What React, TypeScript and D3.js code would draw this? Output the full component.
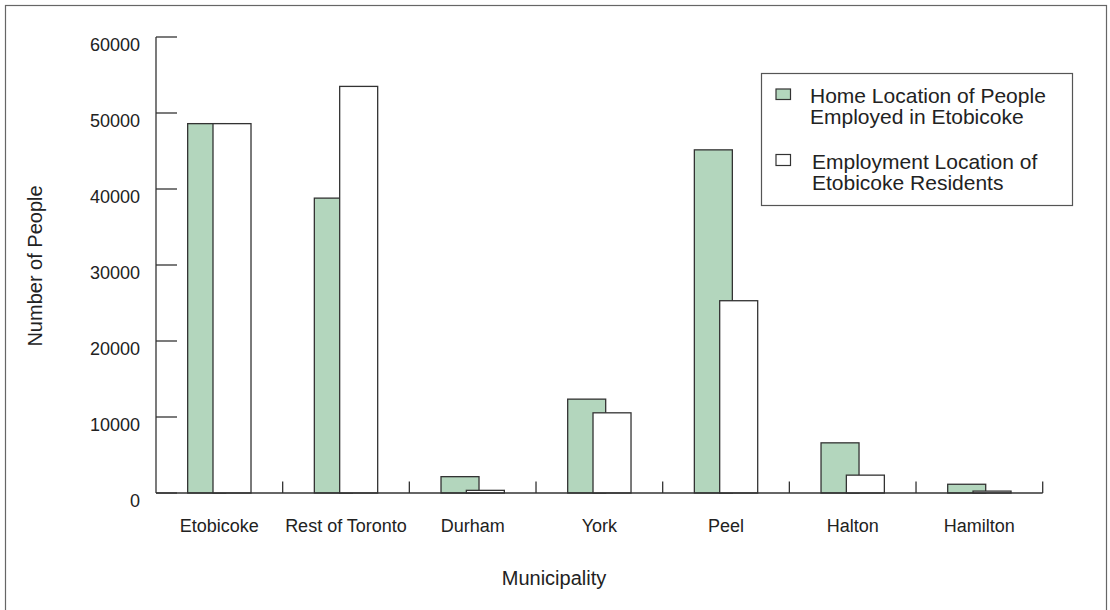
import React from "react";
import * as d3 from "d3";

const categories = ["Etobicoke", "Rest of Toronto", "Durham", "York", "Peel", "Halton", "Hamilton"];
const homeLocation = [48600, 38800, 2150, 12350, 45150, 6600, 1150];
const employmentLocation = [48600, 53500, 350, 10550, 25300, 2350, 250];
const yTicks = [0, 10000, 20000, 30000, 40000, 50000, 60000];
const legendHome = ["Home Location of People", "Employed in Etobicoke"];
const legendEmp = ["Employment Location of", "Etobicoke Residents"];

const W = 1110;
const H = 610;
const FONT = "'Liberation Sans', Arial, sans-serif";
const GREEN = "#b3d6bd";
const STROKE = "#333";
const TEXT = "#222";

export default function App() {
  const x0 = 156, x1 = 1042.7, yTop = 37, yBase = 493;
  const x = d3.scaleBand<string>().domain(categories).range([x0, x1]).paddingInner(0).paddingOuter(0);
  const y = d3.scaleLinear().domain([0, 60000]).range([yBase, yTop]);
  const bw = x.bandwidth();

  return (
    <div style={{ position: "absolute", left: 0, top: 0 }}>
      <svg width={W} height={H} style={{ display: "block" }} fontFamily={FONT}>
        <rect x={0} y={0} width={W} height={H} fill="#fff" />
        <rect x={5.5} y={5.5} width={1101} height={620} fill="none" stroke="#666" strokeWidth={1.2} />

        {/* bars */}
        {categories.map((c, i) => {
          const bx = x(c)!;
          return (
            <g key={c}>
              <rect x={bx + bw * 0.25} y={y(homeLocation[i])} width={bw * 0.3} height={yBase - y(homeLocation[i])}
                fill={GREEN} stroke={STROKE} strokeWidth={1.3} />
              <rect x={bx + bw * 0.45} y={y(employmentLocation[i])} width={bw * 0.3} height={yBase - y(employmentLocation[i])}
                fill="#fff" stroke={STROKE} strokeWidth={1.3} />
            </g>
          );
        })}

        {/* y axis */}
        <line x1={x0} x2={x0} y1={yTop} y2={yBase} stroke={STROKE} strokeWidth={1.3} />
        {yTicks.map((t) => (
          <g key={t}>
            <line x1={x0} x2={x0 + 21} y1={y(t)} y2={y(t)} stroke={STROKE} strokeWidth={1.3} />
            <text x={140} y={y(t) + 13.5} textAnchor="end" fontSize={18} fill={TEXT}>{t}</text>
          </g>
        ))}

        {/* x axis */}
        <line x1={x0} x2={x1} y1={yBase} y2={yBase} stroke={STROKE} strokeWidth={1.3} />
        {categories.map((c) => (
          <g key={c}>
            <line x1={x(c)! + bw} x2={x(c)! + bw} y1={yBase} y2={yBase - 11.5} stroke={STROKE} strokeWidth={1.3} />
            <text x={x(c)! + bw / 2} y={532} textAnchor="middle" fontSize={18} fill={TEXT}>{c}</text>
          </g>
        ))}

        {/* axis titles */}
        <text x={554} y={585} textAnchor="middle" fontSize={20} fill={TEXT}>Municipality</text>
        <text transform="translate(42,266) rotate(-90)" textAnchor="middle" fontSize={20} fill={TEXT}>Number of People</text>

        {/* legend */}
        <rect x={761.5} y={73.5} width={311} height={132} fill="#fff" stroke="#555" strokeWidth={1.2} />
        <rect x={776} y={89} width={14.5} height={10.5} fill={GREEN} stroke={STROKE} strokeWidth={1.2} />
        <rect x={776} y={154.5} width={14.5} height={11} fill="#fff" stroke={STROKE} strokeWidth={1.2} />
        {legendHome.map((s, i) => (
          <text key={s} x={810} y={103.3 + i * 21} fontSize={21} fill={TEXT}>{s}</text>
        ))}
        {legendEmp.map((s, i) => (
          <text key={s} x={812} y={168.7 + i * 21} fontSize={21} fill={TEXT}>{s}</text>
        ))}
      </svg>
    </div>
  );
}
